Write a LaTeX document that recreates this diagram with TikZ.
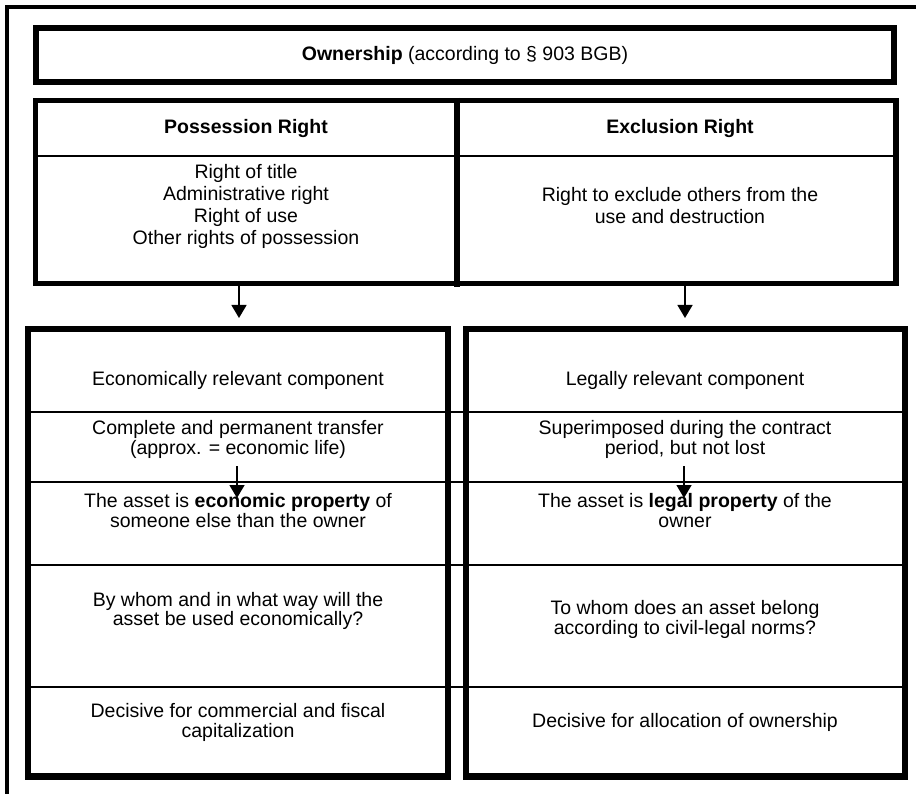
\documentclass[tikz,border=0pt]{standalone}
\usepackage{fontspec}
\setmainfont{Liberation Sans}
\usetikzlibrary{arrows.meta}
\begin{document}
\begin{tikzpicture}[x=1pt,y=-1pt,
  txt/.style={align=center,inner sep=0pt,font=\fontsize{19.5}{22}\selectfont},
  txtb/.style={align=center,inner sep=0pt,font=\fontsize{19.5}{19.5}\selectfont},
  thick box/.style={draw,inner sep=0pt,line width=#1},
  rowline/.style={line width=1.5pt},
  arr/.style={line width=1.5pt,-{Triangle[width=15pt,length=13pt]}}]
\useasboundingbox (0,0) rectangle (916,794);
% outer frame (partial)
\draw[line width=4pt] (7,794) -- (7,7) -- (916,7);
% title box
\node[thick box=6pt,minimum width=858pt,minimum height=54pt] (own) at (465,55) {};
\node[txt] (owntxt) at (465,55) {\textbf{Ownership} (according to § 903 BGB)};
% upper table
\draw[rowline] (36,156) -- (895,156);
\node[thick box=5.5pt,minimum width=860.5pt,minimum height=183pt] (upper) at (465.75,192) {};
\draw[line width=6pt] (457,98) -- (457,287);
\node[txt] (poss) at (246,129) {\textbf{Possession Right}};
\node[txt] (excl) at (680,129) {\textbf{Exclusion Right}};
\node[txt] (posstxt) at (246,206) {Right of title\\Administrative right\\Right of use\\Other rights of possession};
\node[txt] (excltxt) at (680,206) {Right to exclude others from the\\use and destruction};
% lower table row lines
\draw[rowline] (28,412) -- (905,412);
\draw[rowline] (28,482) -- (905,482);
\draw[rowline] (28,565) -- (905,565);
\draw[rowline] (28,687) -- (905,687);
\node[thick box=6.5pt,minimum width=420pt,minimum height=447.5pt] (lowl) at (238,552.75) {};
\node[thick box=6.5pt,minimum width=439pt,minimum height=447.5pt] (lowr) at (685.5,552.75) {};
% left column texts
\node[txtb] (l1) at (238,380) {Economically relevant component};
\node[txtb] (l2) at (238,439.5) {Complete and permanent transfer\\(approx. = economic life)};
\node[txtb] (l3) at (238,510.5) {The asset is \textbf{economic property} of\\someone else than the owner};
\node[txtb] (l4) at (238,611) {By whom and in what way will the\\asset be used economically?};
\node[txtb] (l5) at (238,722.5) {Decisive for commercial and fiscal\\capitalization};
% right column texts
\node[txtb] (r1) at (685,380) {Legally relevant component};
\node[txtb] (r2) at (685,439.5) {Superimposed during the contract\\period, but not lost};
\node[txtb] (r3) at (685,510.5) {The asset is \textbf{legal property} of the\\owner};
\node[txtb] (r4) at (685,619.5) {To whom does an asset belong\\according to civil-legal norms?};
\node[txtb] (r5) at (685,722) {Decisive for allocation of ownership};
% arrows
\coordinate (a1s) at (239,286); \coordinate (a1e) at (239,318);
\coordinate (a2s) at (685,286); \coordinate (a2e) at (685,318);
\coordinate (a3s) at (237,466); \coordinate (a3e) at (237,498);
\coordinate (a4s) at (684,466); \coordinate (a4e) at (684,498);
\draw[arr] (a1s) -- (a1e);
\draw[arr] (a2s) -- (a2e);
\draw[arr] (a3s) -- (a3e);
\draw[arr] (a4s) -- (a4e);
\end{tikzpicture}
\end{document}
